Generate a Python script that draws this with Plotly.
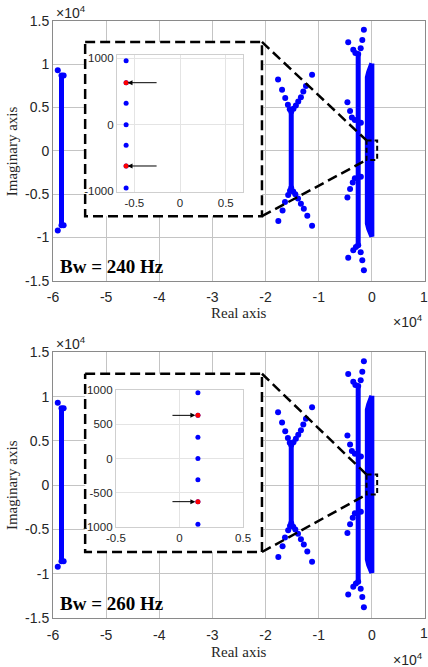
import plotly.graph_objects as go

# ---- main panels: real / imaginary part of the poles, in units of 1e4 ----
# dense vertical runs of poles: real part, top and bottom imaginary part
run_re = [-5.84, -1.517, -0.257]
run_top = [0.87, 0.455, 1.12]
run_bot = [-0.86, -0.43, -1.09]

# outline of the thick band of poles next to the imaginary axis
band_re = [0.0, -0.03, -0.06, -0.085, -0.085, -0.06, -0.03, 0.0, 0.0]
band_im = [1.01, 0.97, 0.91, 0.85, -0.84, -0.90, -0.96, -0.99, 1.01]

# isolated poles
pole_re = [-5.91, -5.80, -5.91, -5.80,
           -1.765, -1.69, -1.63, -1.58, -1.545,
           -1.125, -1.24, -1.29, -1.335, -1.385, -1.43, -1.475,
           -1.76, -1.68, -1.635, -1.575, -1.54,
           -1.125, -1.215, -1.28, -1.335, -1.39, -1.44, -1.48,
           -0.445, -0.35, -0.31, -0.21, -0.18, -0.15,
           -0.445, -0.35, -0.30, -0.21, -0.18, -0.15,
           -0.46, -0.41, -0.376, -0.32, -0.207,
           -0.46, -0.41, -0.36, -0.32, -0.207]
pole_im = [0.93, 0.87, -0.92, -0.86,
           0.823, 0.707, 0.61, 0.533, 0.48,
           0.88, 0.75, 0.685, 0.62, 0.57, 0.525, 0.485,
           -0.81, -0.69, -0.59, -0.51, -0.46,
           -0.865, -0.75, -0.67, -0.61, -0.55, -0.50, -0.47,
           1.255, 1.167, 1.13, 1.185, 1.28, 1.40,
           -1.236, -1.147, -1.11, -1.17, -1.263, -1.38,
           0.56, 0.46, 0.386, 0.356, 0.324,
           -0.54, -0.44, -0.367, -0.317, -0.30]

# zoom window and the box that holds the inset (main axis units)
inset_box_re = [-5.395, -2.068]
inset_box_im = [-0.755, 1.258]
zoom_re = [-0.10, 0.10]
zoom_im = [-0.105, 0.12]

# ---- insets ----
inset1_re = [-0.59, -0.59, -0.59, -0.59, -0.59, -0.59, -0.59]
inset1_im = [960, 630, 320, 0, -310, -620, -950]
inset1_red_re = [-0.59, -0.59]
inset1_red_im = [630, -620]

inset2_re = [0.145, 0.145, 0.145, 0.145, 0.145, 0.145, 0.145]
inset2_im = [960, 630, 310, 0, -310, -630, -960]
inset2_red_re = [0.145, 0.145]
inset2_red_im = [630, -630]

main_xticks = [-6, -5, -4, -3, -2, -1, 0, 1]
main_yticks = [-1.5, -1, -0.5, 0, 0.5, 1, 1.5]
inset_xticks = [-0.5, 0, 0.5]
inset1_yticks = [-1000, 0, 1000]
inset2_yticks = [-1000, -500, 0, 500, 1000]

labels = ['Bw = 240 Hz', 'Bw = 260 Hz']

BLUE = '#0000ff'
RED = '#ff0000'
SANS = 'Liberation Sans, Arial, sans-serif'
SERIF = 'Liberation Serif, Times New Roman, serif'
DASH = dict(color='black', width=2.5, dash='10px,5px')
TICKFONT = dict(family=SANS, size=14, color='#262626')


def fmt(v):
    return '%g' % v


fig = go.Figure()

panels = [
    dict(x='x', y='y', ix='x2', iy='y2',
         in_re=inset1_re, in_im=inset1_im, red_re=inset1_red_re, red_im=inset1_red_im),
    dict(x='x3', y='y3', ix='x4', iy='y4',
         in_re=inset2_re, in_im=inset2_im, red_re=inset2_red_re, red_im=inset2_red_im),
]

for p in panels:
    xa, ya = p['x'], p['y']
    # dense runs
    for re, top, bot in zip(run_re, run_top, run_bot):
        fig.add_trace(go.Scatter(x=[re, re], y=[top, bot], mode='lines+markers',
                                 line=dict(color=BLUE, width=5),
                                 marker=dict(color=BLUE, size=6),
                                 xaxis=xa, yaxis=ya, hoverinfo='skip'))
    fig.add_trace(go.Scatter(x=band_re, y=band_im, mode='lines', fill='toself',
                             fillcolor=BLUE, line=dict(color=BLUE, width=5),
                             xaxis=xa, yaxis=ya, hoverinfo='skip'))
    fig.add_trace(go.Scatter(x=pole_re, y=pole_im, mode='markers',
                             marker=dict(color=BLUE, size=6),
                             xaxis=xa, yaxis=ya))
    # white box holding the inset
    bx = [inset_box_re[0], inset_box_re[1], inset_box_re[1], inset_box_re[0], inset_box_re[0]]
    by = [inset_box_im[1], inset_box_im[1], inset_box_im[0], inset_box_im[0], inset_box_im[1]]
    fig.add_trace(go.Scatter(x=bx, y=by, mode='lines', fill='toself', fillcolor='white',
                             line=DASH, xaxis=xa, yaxis=ya, hoverinfo='skip'))
    # connectors and zoom window
    fig.add_trace(go.Scatter(x=[inset_box_re[1], zoom_re[0]], y=[inset_box_im[1], zoom_im[1]],
                             mode='lines', line=DASH, xaxis=xa, yaxis=ya, hoverinfo='skip'))
    fig.add_trace(go.Scatter(x=[inset_box_re[1], zoom_re[0]], y=[inset_box_im[0], zoom_im[0]],
                             mode='lines', line=DASH, xaxis=xa, yaxis=ya, hoverinfo='skip'))
    zx = [zoom_re[0], zoom_re[1], zoom_re[1], zoom_re[0], zoom_re[0]]
    zy = [zoom_im[1], zoom_im[1], zoom_im[0], zoom_im[0], zoom_im[1]]
    fig.add_trace(go.Scatter(x=zx, y=zy, mode='lines',
                             line=dict(color='black', width=2, dash='5px,3px'),
                             xaxis=xa, yaxis=ya, hoverinfo='skip'))
    # inset content
    fig.add_trace(go.Scatter(x=p['in_re'], y=p['in_im'], mode='markers',
                             marker=dict(color=BLUE, size=5),
                             xaxis=p['ix'], yaxis=p['iy']))
    fig.add_trace(go.Scatter(x=p['red_re'], y=p['red_im'], mode='markers',
                             marker=dict(color=RED, size=5),
                             xaxis=p['ix'], yaxis=p['iy']))

main_axis = dict(showgrid=True, gridcolor='#c4c4c4', gridwidth=1, zeroline=False,
                 showline=True, linecolor='#8a8a8a', linewidth=1, mirror=True,
                 automargin=False, ticks='', tickfont=TICKFONT)
inset_axis = dict(showgrid=True, gridcolor='#e4e4e4', gridwidth=1, zeroline=False,
                  showline=True, linecolor='#cfcfcf', linewidth=1, mirror=True,
                  automargin=False,
                  ticks='', tickfont=dict(family=SANS, size=11.5, color='#262626'))

# the last x tick label sits on the page edge; it is written as an annotation below
mx = dict(main_axis, range=[-6, 1], tickvals=main_xticks,
          ticktext=[fmt(v) for v in main_xticks[:-1]] + [''], ticklabelstandoff=4)
my = dict(main_axis, range=[-1.5, 1.5], tickvals=main_yticks,
          ticktext=[fmt(v) for v in main_yticks])
ix = dict(inset_axis, tickvals=inset_xticks, ticktext=[fmt(v) for v in inset_xticks])

fig.update_layout(
    width=428, height=667,
    margin=dict(l=53, r=3, t=21, b=49),
    paper_bgcolor='white', plot_bgcolor='white',
    showlegend=False,
    xaxis=dict(mx, domain=[0, 1], anchor='y'),
    yaxis=dict(my, domain=[0.565, 1.0], anchor='x'),
    xaxis2=dict(ix, domain=[0.172, 0.511], anchor='y2', range=[-0.69, 0.69]),
    yaxis2=dict(inset_axis, domain=[0.7136, 0.943], anchor='x2', range=[-1010, 1045],
                tickvals=inset1_yticks, ticktext=[fmt(v) for v in inset1_yticks]),
    xaxis3=dict(mx, domain=[0, 1], anchor='y3'),
    yaxis3=dict(my, domain=[0.0, 0.445], anchor='x3'),
    xaxis4=dict(ix, domain=[0.169, 0.511], anchor='y4', range=[-0.5, 0.5]),
    yaxis4=dict(inset_axis, domain=[0.1524, 0.3819], anchor='x4', range=[-1000, 1000],
                tickvals=inset2_yticks, ticktext=[fmt(v) for v in inset2_yticks]),
)

ann = []
# arrows pointing at the red poles
for im in inset1_red_im:
    ann.append(dict(x=-0.575, y=im, ax=-0.24, ay=im, xref='x2', yref='y2',
                    axref='x2', ayref='y2', text='', showarrow=True, arrowhead=2,
                    arrowsize=1, arrowwidth=1, arrowcolor='black', standoff=0))
for im in inset2_red_im:
    ann.append(dict(x=0.125, y=im, ax=-0.067, ay=im, xref='x4', yref='y4',
                    axref='x4', ayref='y4', text='', showarrow=True, arrowhead=2,
                    arrowsize=1, arrowwidth=1, arrowcolor='black', standoff=0))

exp_text = '\u00d710<sup>4</sup>'
for xref, top_y, mid_y, tick_y, xlab_y, xexp_y, bw_y, label in [
        ('x', 1.015, 0.782, 0.5377, 0.511, 0.497, 0.5896, labels[0]),
        ('x3', 0.4606, 0.2228, -0.0251, -0.057, -0.068, 0.0251, labels[1])]:
    ann.append(dict(x=main_xticks[-1], y=tick_y, xref=xref, yref='paper',
                    text=fmt(main_xticks[-1]), showarrow=False, xanchor='center',
                    yanchor='middle', xshift=-1, font=TICKFONT))
    ann.append(dict(x=0.004, y=top_y, xref='paper', yref='paper', text=exp_text,
                    showarrow=False, xanchor='left', yanchor='middle', font=TICKFONT))
    ann.append(dict(x=1.0, y=xexp_y, xref='paper', yref='paper', text=exp_text,
                    showarrow=False, xanchor='right', yanchor='middle', font=TICKFONT))
    ann.append(dict(x=0.5, y=xlab_y, xref='paper', yref='paper', text='Real axis',
                    showarrow=False, xanchor='center', yanchor='middle',
                    font=dict(family=SERIF, size=15, color='#262626')))
    ann.append(dict(x=-0.11, y=mid_y, xref='paper', yref='paper', text='Imaginary axis',
                    showarrow=False, xanchor='center', yanchor='middle', textangle=-90,
                    font=dict(family=SERIF, size=15, color='#262626')))
    ann.append(dict(x=0.013, y=bw_y, xref='paper', yref='paper', text='<b>' + label + '</b>',
                    showarrow=False, xanchor='left', yanchor='middle',
                    font=dict(family=SERIF, size=19, color='black')))

fig.update_layout(annotations=ann)

fig.write_html("out.html", config={'displayModeBar': False},
               post_script="document.body.style.margin='0';document.body.style.overflow='hidden';")
